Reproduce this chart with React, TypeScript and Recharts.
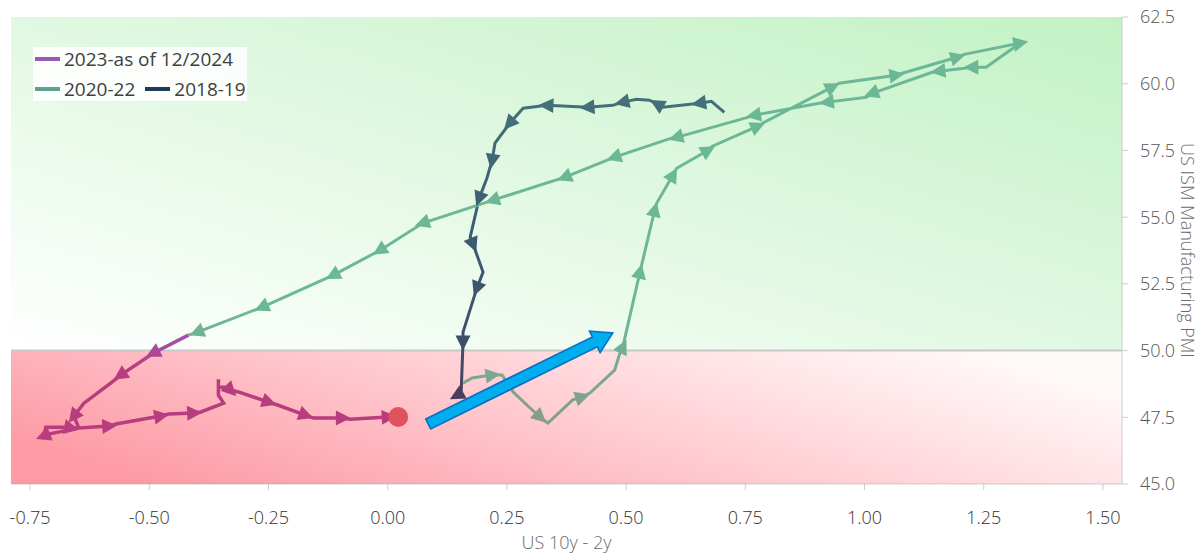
import React from 'react'
import { LineChart, Line, XAxis, YAxis, ReferenceArea, ReferenceLine, Legend } from 'recharts'

// axis ticks
const xTicks = [-0.75, -0.5, -0.25, 0, 0.25, 0.5, 0.75, 1, 1.25, 1.5]
const yTicks = [45, 47.5, 50, 52.5, 55, 57.5, 60, 62.5]

const seriesNames = ['2023-as of 12/2024', '2020-22', '2018-19']

// [US 10y - 2y, ISM PMI], in time order
const path1819: [number, number][] = [
  [0.706, 58.93], [0.679, 59.34], [0.654, 59.27], [0.577, 59.12], [0.566, 59.23],
  [0.549, 59.38], [0.522, 59.42], [0.493, 59.31], [0.472, 59.19], [0.42, 59.12],
  [0.334, 59.19], [0.284, 59.08], [0.256, 58.52], [0.225, 57.77], [0.219, 57.13],
  [0.208, 56.46], [0.192, 55.71], [0.173, 54.25], [0.179, 53.99], [0.2, 52.94],
  [0.187, 52.34], [0.158, 50.69], [0.158, 50.32], [0.154, 48.41], [0.146, 48.33],
]
const arrows1819 = [2, 4, 7, 9, 10, 12, 14, 16, 18, 20, 22, 24]

const path2022: [number, number][] = [
  [0.158, 48.78], [0.177, 48.97], [0.219, 49.08], [0.24, 49.08], [0.263, 48.45],
  [0.292, 47.96], [0.319, 47.51], [0.336, 47.28], [0.388, 48.15], [0.407, 48.26],
  [0.424, 48.41], [0.476, 49.27], [0.487, 49.91], [0.493, 50.13], [0.529, 52.94],
  [0.56, 55.26], [0.564, 55.52], [0.598, 56.57], [0.606, 56.83], [0.671, 57.5],
  [0.681, 57.66], [0.775, 58.4], [0.786, 58.52], [0.932, 59.87], [0.947, 60.02],
  [1.066, 60.32], [1.079, 60.39], [1.194, 60.99], [1.209, 61.1], [1.326, 61.52],
  [1.255, 60.62], [1.225, 60.62], [1.209, 60.58], [1.156, 60.47], [1.142, 60.43],
  [1.016, 59.64], [1.004, 59.49], [0.922, 59.31], [0.905, 59.27], [0.769, 58.82],
  [0.755, 58.74], [0.606, 57.99], [0.595, 57.96], [0.476, 57.25], [0.372, 56.5],
  [0.221, 55.64], [0.074, 54.78], [-0.016, 53.76], [-0.114, 52.83], [-0.263, 51.63],
  [-0.399, 50.69], [-0.418, 50.58],
]
const arrows2022 = [2, 6, 9, 13, 14, 15, 17, 19, 21, 23, 25, 27, 29, 31, 33, 35, 37, 39, 41, 43, 44, 45, 46, 47, 48, 49, 50]

const path2324: [number, number][] = [
  [-0.418, 50.58], [-0.491, 49.91], [-0.56, 49.08], [-0.581, 48.78], [-0.637, 48.03],
  [-0.658, 47.55], [-0.648, 47.1], [-0.711, 46.87], [-0.721, 46.8], [-0.717, 47.13],
  [-0.673, 47.13], [-0.665, 47.1], [-0.648, 47.1], [-0.585, 47.17], [-0.57, 47.25],
  [-0.476, 47.55], [-0.459, 47.62], [-0.407, 47.66], [-0.392, 47.7], [-0.344, 48.03],
  [-0.355, 48.33], [-0.355, 48.93], [-0.355, 48.63], [-0.336, 48.63], [-0.33, 48.52],
  [-0.313, 48.45], [-0.25, 48.07], [-0.231, 47.96], [-0.173, 47.58], [-0.156, 47.47],
  [-0.095, 47.47], [-0.079, 47.43], [0.001, 47.51], [0.022, 47.51],
]
const arrows2324 = [1, 2, 5, 8, 11, 13, 15, 17, 24, 26, 28, 30, 32]

// big blue trend arrow
const trendFrom = { x: 0.085, y: 47.25 }
const trendTo = { x: 0.472, y: 50.66 }

const W = 1202
const H = 555
const X_DOMAIN: [number, number] = [-0.79, 1.54]
const Y_DOMAIN: [number, number] = [45, 62.5]
const MARGIN = { top: 17, right: 0, bottom: 0, left: 11 }
const Y_AXIS_W = 80
const X_AXIS_H = 71
const PX_X = (W - MARGIN.left - MARGIN.right - Y_AXIS_W) / (X_DOMAIN[1] - X_DOMAIN[0])
const PX_Y = (H - MARGIN.top - MARGIN.bottom - X_AXIS_H) / (Y_DOMAIN[1] - Y_DOMAIN[0])

const FONT = '"Segoe UI", "Open Sans", "Noto Sans", sans-serif'

const toRows = (p: [number, number][]) => p.map(([x, y]) => ({ x, y }))
const rows1819 = toRows(path1819)
const rows2022 = toRows(path2022)
const rows2324 = toRows(path2324)

// arrowhead outline, pointing along +x
const HEAD: [number, number][] = [[8.5, 0], [-6.5, -7.5], [-6.5, 7.5]]

function makeDot(rows: { x: number; y: number }[], arrows: number[], fill: string, endDot = false) {
  return (props: any) => {
    const { cx, cy, index, points } = props
    const key = `d-${index}`
    if (cx == null || cy == null) return <g key={key} />
    if (endDot && index === rows.length - 1) {
      return <circle key={key} cx={cx} cy={cy} r={10} fill="#e0525e" />
    }
    if (index === 0 || !arrows.includes(index)) return <g key={key} />
    let dx: number
    let dy: number
    const prev = points && points[index - 1]
    if (prev && prev.x != null && prev.y != null) {
      dx = cx - prev.x
      dy = cy - prev.y
    } else {
      dx = (rows[index].x - rows[index - 1].x) * PX_X
      dy = -(rows[index].y - rows[index - 1].y) * PX_Y
    }
    const a = Math.atan2(dy, dx)
    const c = Math.cos(a)
    const s = Math.sin(a)
    // absolute coordinates so the userSpace gradient fill lines up with the line stroke
    const d =
      HEAD.map(([px, py], i) => `${i ? 'L' : 'M'} ${(cx + px * c - py * s).toFixed(2)} ${(cy + px * s + py * c).toFixed(2)}`).join(' ') +
      ' Z'
    return <path key={key} d={d} fill={fill} />
  }
}

const trendShape = (p: any) => {
  const { x1, y1, x2, y2 } = p
  if ([x1, y1, x2, y2].some((v) => v == null || isNaN(v))) return <g />
  const len = Math.hypot(x2 - x1, y2 - y1)
  const ang = (Math.atan2(y2 - y1, x2 - x1) * 180) / Math.PI
  const hl = 20
  const sw = 5.5
  const hw = 12
  const d = `M 0 ${-sw} L ${len - hl} ${-sw} L ${len - hl} ${-hw} L ${len} 0 L ${len - hl} ${hw} L ${len - hl} ${sw} L 0 ${sw} Z`
  return (
    <path
      d={d}
      transform={`translate(${x1},${y1}) rotate(${ang})`}
      fill="#00aeef"
      stroke="#0a6fc2"
      strokeWidth={1.6}
      strokeLinejoin="miter"
    />
  )
}

const xTitle = (props: any) => {
  const vb = props.viewBox || {}
  const x = (vb.x ?? MARGIN.left) + (vb.width ?? 1111) / 2
  const y = (vb.y ?? 484) + (vb.height ?? X_AXIS_H) - 6
  return (
    <text x={x} y={y} textAnchor="middle" fill="#6b6b6b" fontSize={18} fontFamily={FONT} fontWeight={300}>
      US 10y - 2y
    </text>
  )
}

const yTitle = (props: any) => {
  const vb = props.viewBox || {}
  const x = (vb.x ?? 1122) + 66
  const y = (vb.y ?? MARGIN.top) + (vb.height ?? 467) / 2
  return (
    <text
      x={x}
      y={y}
      transform={`rotate(90, ${x}, ${y})`}
      textAnchor="middle"
      dominantBaseline="central"
      fill="#6b6b6b"
      fontSize={18}
      fontFamily={FONT}
      fontWeight={300}
    >
      US ISM Manufacturing PMI
    </text>
  )
}

const legendColors = ['#9b59b6', '#5aa38e', '#1f3a5f']

const Swatch = ({ color }: { color: string }) => (
  <span style={{ display: 'inline-block', width: 25, height: 4, background: color, marginRight: 4 }} />
)

const LegendBox = () => (
  <div
    style={{
      background: 'rgba(255,255,255,0.85)',
      width: 214,
      height: 54,
      fontFamily: FONT,
      fontSize: 19,
      color: '#404040',
      boxSizing: 'border-box',
      paddingLeft: 2,
    }}
  >
    <div style={{ height: 24, display: 'flex', alignItems: 'center' }}>
      <Swatch color={legendColors[0]} />
      <span>{seriesNames[0]}</span>
    </div>
    <div style={{ height: 24, marginTop: 6, display: 'flex', alignItems: 'center' }}>
      <Swatch color={legendColors[1]} />
      <span style={{ marginRight: 10 }}>{seriesNames[1]}</span>
      <Swatch color={legendColors[2]} />
      <span>{seriesNames[2]}</span>
    </div>
  </div>
)

export default function App() {
  return (
    <div style={{ position: 'absolute', left: 0, top: 0, width: W, height: H, background: '#fff', fontFamily: FONT }}>
      <LineChart width={W} height={H} margin={MARGIN}>
        <defs>
          <linearGradient id="gGreen" x1="0" y1="1" x2="1" y2="0">
            <stop offset="0%" stopColor="#ffffff" />
            <stop offset="100%" stopColor="#c2f2c4" />
          </linearGradient>
          <linearGradient id="gPink" x1="0" y1="0.7" x2="1" y2="0.3">
            <stop offset="0%" stopColor="#fd9aa4" />
            <stop offset="50%" stopColor="#ffccd2" />
            <stop offset="100%" stopColor="#fffafa" />
          </linearGradient>
          <linearGradient id="s1819" gradientUnits="userSpaceOnUse" x1="0" y1="100" x2="0" y2="400">
            <stop offset="0%" stopColor="#44707a" />
            <stop offset="45%" stopColor="#3c5b72" />
            <stop offset="85%" stopColor="#3e4d68" />
            <stop offset="100%" stopColor="#4e3a5c" />
          </linearGradient>
          <linearGradient id="s2022" gradientUnits="userSpaceOnUse" x1="0" y1="430" x2="0" y2="320">
            <stop offset="0%" stopColor="#879a8c" />
            <stop offset="100%" stopColor="#6cb795" />
          </linearGradient>
          <linearGradient id="s2324" gradientUnits="userSpaceOnUse" x1="0" y1="332" x2="0" y2="368">
            <stop offset="0%" stopColor="#9c56b2" />
            <stop offset="100%" stopColor="#b73d7e" />
          </linearGradient>
        </defs>

        <XAxis
          dataKey="x"
          type="number"
          domain={X_DOMAIN}
          ticks={xTicks}
          allowDataOverflow
          tickFormatter={(v: number) => v.toFixed(2)}
          height={X_AXIS_H}
          tickSize={6}
          tickMargin={21}
          axisLine={{ stroke: 'rgba(150,150,150,0.45)' }}
          tickLine={{ stroke: '#cccccc' }}
          tick={{ fill: '#333', fontSize: 18, fontFamily: FONT, fontWeight: 300 }}
          label={xTitle}
        />
        <YAxis
          yAxisId={0}
          orientation="right"
          type="number"
          domain={Y_DOMAIN}
          ticks={yTicks}
          allowDataOverflow
          tickFormatter={(v: number) => v.toFixed(1)}
          width={Y_AXIS_W}
          tickSize={6}
          tickMargin={12}
          axisLine={{ stroke: '#cccccc' }}
          tickLine={{ stroke: '#cccccc' }}
          tick={{ fill: '#555', fontSize: 18, fontFamily: FONT, fontWeight: 300 }}
          label={yTitle}
        />

        <ReferenceArea y1={50} y2={62.5} fill="url(#gGreen)" fillOpacity={1} stroke="none" />
        <ReferenceArea y1={45} y2={50} fill="url(#gPink)" fillOpacity={1} stroke="none" />
        <ReferenceLine y={50} stroke="#c8c8c8" strokeWidth={2} />

        <Legend
          layout="horizontal"
          verticalAlign="middle"
          align="center"
          content={() => <LegendBox />}
          wrapperStyle={{ left: 33, top: 47, width: 214, height: 54 }}
        />

        <Line
          data={rows1819}
          dataKey="y"
          type="linear"
          stroke="url(#s1819)"
          strokeWidth={3}
          dot={makeDot(rows1819, arrows1819, 'url(#s1819)')}
          activeDot={false}
          isAnimationActive={false}
          legendType="none"
        />
        <Line
          data={rows2022}
          dataKey="y"
          type="linear"
          stroke="url(#s2022)"
          strokeWidth={3}
          dot={makeDot(rows2022, arrows2022, 'url(#s2022)')}
          activeDot={false}
          isAnimationActive={false}
          legendType="none"
        />
        <Line
          data={rows2324}
          dataKey="y"
          type="linear"
          stroke="url(#s2324)"
          strokeWidth={3.5}
          dot={makeDot(rows2324, arrows2324, 'url(#s2324)', true)}
          activeDot={false}
          isAnimationActive={false}
          legendType="none"
        />

        <ReferenceLine segment={[trendFrom, trendTo]} shape={trendShape} />
      </LineChart>
    </div>
  )
}
